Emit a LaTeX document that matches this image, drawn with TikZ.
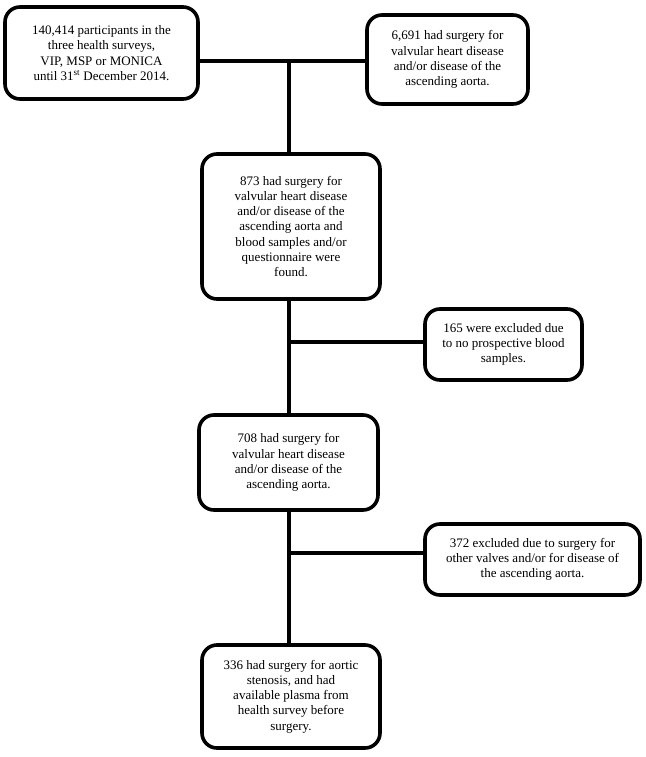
\documentclass[tikz,border=0pt]{standalone}
\usepackage{fontspec}
\setmainfont{Liberation Serif}
\begin{document}
\begin{tikzpicture}[x=1pt,y=-1pt,
  fbox/.style={draw, line width=3.6pt, rounded corners=15pt, align=center, fill=white,
    inner sep=0pt, font=\fontsize{13}{15.2}\selectfont},
  conn/.style={line width=3.4pt}]
\useasboundingbox (0,0) rectangle (645,757);
\node[fbox, minimum width=193pt, minimum height=92pt] (b1) at (101.5,53)
  {140,414 participants in the\\three health surveys,\\VIP, MSP or MONICA\\until 31\textsuperscript{st} December 2014.};
\node[fbox, minimum width=161pt, minimum height=89pt] (b2) at (447.5,59.5)
  {6,691 had surgery for\\valvular heart disease\\and/or disease of the\\ascending aorta.};
\node[fbox, minimum width=178pt, minimum height=145pt] (b3) at (291,226.5)
  {873 had surgery for\\valvular heart disease\\and/or disease of the\\ascending aorta and\\blood samples and/or\\questionnaire were\\found.};
\node[fbox, minimum width=157pt, minimum height=71pt] (b4) at (503.5,344.5)
  {165 were excluded due\\to no prospective blood\\samples.};
\node[fbox, minimum width=179pt, minimum height=95pt] (b5) at (288.5,462.5)
  {708 had surgery for\\valvular heart disease\\and/or disease of the\\ascending aorta.};
\node[fbox, minimum width=215pt, minimum height=71pt] (b6) at (532.5,559.5)
  {372 excluded due to surgery for\\other valves and/or for disease of\\the ascending aorta.};
\node[fbox, minimum width=178pt, minimum height=103pt] (b7) at (291,696.5)
  {336 had surgery for aortic\\stenosis, and had\\available plasma from\\health survey before\\surgery.};
\coordinate (j1) at (289,61);
\coordinate (j2) at (289,342);
\coordinate (j3) at (289,553);
\draw[conn] (b1.east |- j1) -- (b2.west |- j1);
\draw[conn] (j1) -- (j1 |- b3.north);
\draw[conn] (j1 |- b3.south) -- (j1 |- b5.north);
\draw[conn] (j2) -- (b4.west |- j2);
\draw[conn] (j1 |- b5.south) -- (j1 |- b7.north);
\draw[conn] (j3) -- (b6.west |- j3);
\end{tikzpicture}
\end{document}
